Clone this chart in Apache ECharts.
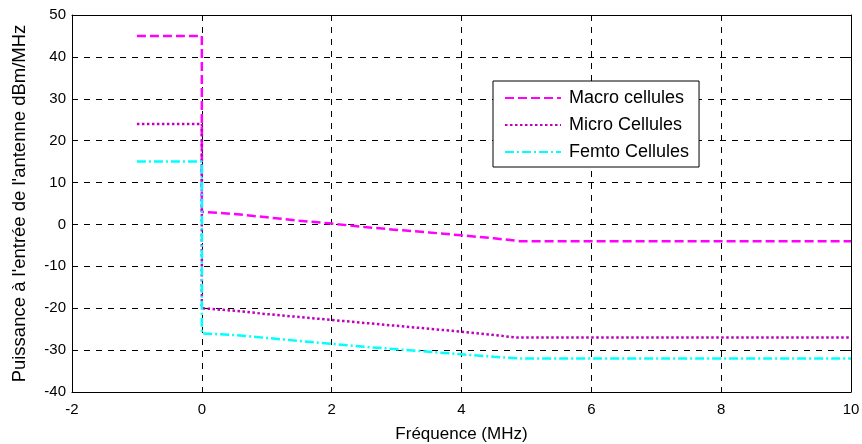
<!DOCTYPE html>
<html>
<head>
<meta charset="utf-8">
<script src="https://cdn.jsdelivr.net/npm/echarts@6/dist/echarts.min.js"></script>
<style>html,body{margin:0;padding:0;background:#fff}#c{width:862px;height:444px}</style>
</head>
<body>
<div id="c"></div>
<script>
const seriesNames = ['Macro cellules', 'Micro Cellules', 'Femto Cellules'];
const macroX = [-1, 0, 0, 0.5, 1, 1.5, 2, 2.5, 3, 3.5, 4, 4.5, 4.9, 10];
const macroY = [45, 45, 3, 2.5, 1.7, 0.9, 0.2, -0.6, -1.3, -1.9, -2.6, -3.3, -4, -4];
const microX = [-1, 0, 0, 0.5, 1, 1.5, 2, 2.5, 3, 3.5, 4, 4.5, 4.85, 10];
const microY = [24, 24, -20, -20.6, -21.4, -22.1, -22.8, -23.5, -24.2, -24.9, -25.6, -26.4, -27, -27];
const femtoX = [-1, 0, 0, 0.5, 1, 1.5, 2, 2.5, 3, 3.5, 4, 4.5, 4.9, 10];
const femtoY = [15, 15, -26, -26.4, -27.1, -27.8, -28.5, -29.2, -29.8, -30.4, -31, -31.6, -32, -32];
const xTicks = {min: -2, max: 10, interval: 2};
const yTicks = {min: -40, max: 50, interval: 10};

const pairs = (xs, ys) => xs.map((x, i) => [x, ys[i]]);
const font = 'Liberation Sans, Arial, sans-serif';
const gridLine = {show: true, lineStyle: {color: '#000', type: [6, 6], width: 1}};

const chart = echarts.init(document.getElementById('c'), null, {renderer: 'canvas'});
chart.setOption({
  animation: false,
  backgroundColor: '#fff',
  grid: {left: 72, right: 11, top: 15, bottom: 52, containLabel: false, outerBoundsMode: 'none'},
  xAxis: [{
    type: 'value', min: xTicks.min, max: xTicks.max, interval: xTicks.interval,
    name: 'Fréquence (MHz)', nameLocation: 'middle', nameGap: 34,
    nameTextStyle: {fontFamily: font, fontSize: 17, color: '#000'},
    axisLine: {onZero: false, lineStyle: {color: '#000', width: 1}},
    axisTick: {inside: true, length: 5, lineStyle: {color: '#000'}},
    axisLabel: {fontFamily: font, fontSize: 15, color: '#000', margin: 10},
    splitLine: gridLine
  }, {
    type: 'value', position: 'top', min: xTicks.min, max: xTicks.max, interval: xTicks.interval,
    axisLine: {show: true, onZero: false, lineStyle: {color: '#000', width: 1}},
    axisTick: {inside: true, length: 5, lineStyle: {color: '#000'}},
    axisLabel: {show: false}, splitLine: {show: false}
  }],
  yAxis: [{
    type: 'value', min: yTicks.min, max: yTicks.max, interval: yTicks.interval,
    name: "Puissance à l'entrée de l'antenne dBm/MHz", nameLocation: 'middle', nameGap: 43,
    nameTextStyle: {fontFamily: font, fontSize: 18.5, color: '#000'},
    axisLine: {show: true, onZero: false, lineStyle: {color: '#000', width: 1}},
    axisTick: {show: true, inside: true, length: 5, lineStyle: {color: '#000'}},
    axisLabel: {fontFamily: font, fontSize: 15, color: '#000', margin: 6},
    splitLine: gridLine
  }, {
    type: 'value', position: 'right', min: yTicks.min, max: yTicks.max, interval: yTicks.interval,
    axisLine: {show: true, onZero: false, lineStyle: {color: '#000', width: 1}},
    axisTick: {show: true, inside: true, length: 5, lineStyle: {color: '#000'}},
    axisLabel: {show: false}, splitLine: {show: false}
  }],
  legend: {
    orient: 'vertical', left: 493, top: 81,
    padding: [8, 10, 6, 11],
    itemWidth: 56, itemHeight: 14, itemGap: 9,
    borderColor: '#000', borderWidth: 1, backgroundColor: '#fff',
    itemStyle: {opacity: 0},
    textStyle: {fontFamily: font, fontSize: 18, color: '#000', padding: [0, 0, 0, 3]},
    data: seriesNames
  },
  series: [{
    name: seriesNames[0], type: 'line', symbol: 'none', data: pairs(macroX, macroY),
    lineStyle: {color: '#ff00ff', width: 2.5, type: [9, 4]}, itemStyle: {color: '#ff00ff'}, z: 3
  }, {
    name: seriesNames[1], type: 'line', symbol: 'none', data: pairs(microX, microY),
    lineStyle: {color: '#bf00bf', width: 2.5, type: [2.5, 2.5]}, itemStyle: {color: '#bf00bf'}, z: 4
  }, {
    name: seriesNames[2], type: 'line', symbol: 'none', data: pairs(femtoX, femtoY),
    lineStyle: {color: '#00ffff', width: 2.5, type: [9, 3, 2, 3]}, itemStyle: {color: '#00ffff'}, z: 5
  }]
});
</script>
</body>
</html>
